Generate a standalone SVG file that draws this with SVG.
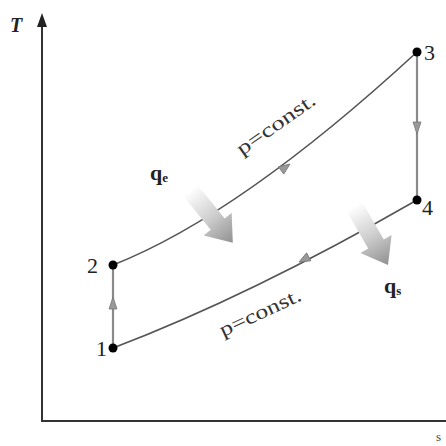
<svg xmlns="http://www.w3.org/2000/svg" width="446" height="446" viewBox="0 0 446 446">
<style>
.ax{stroke:#333;stroke-width:2;fill:none}
.pr{stroke:#555;stroke-width:1.6;fill:none}
.vl{stroke:#8a8a8a;stroke-width:2.2;fill:none}
.ah{fill:#999;stroke:#777;stroke-width:0.8}
.pt{fill:#000}
.lb{font-family:"Liberation Serif",serif;font-size:22px;fill:#222}
.q{font-family:"Liberation Serif",serif;font-size:22px;fill:#222;font-weight:bold}
.sub{font-size:13px}
.pc{font-family:"Liberation Serif",serif;font-size:20px;fill:#333}
</style>
<defs>
<linearGradient id="g" x1="0" y1="0" x2="1" y2="0">
<stop offset="0" stop-color="#ffffff"/>
<stop offset="0.5" stop-color="#cfcfcf"/>
<stop offset="1" stop-color="#909090"/>
</linearGradient>
</defs>
<g id="axes">
<line class="ax" x1="42" y1="24" x2="42" y2="421"/>
<line class="ax" x1="41" y1="421" x2="446" y2="421"/>
<polygon points="42,13 37,27 47,27" fill="#222"/>
<text x="10" y="32" style="font-family:'Liberation Serif',serif;font-size:20px;font-style:italic;font-weight:bold" fill="#222">T</text>
<text x="436" y="441" style="font-family:'Liberation Serif',serif;font-size:13px" fill="#444">s</text>
</g>
<g id="connectors">
<path class="pr" d="M113,265 Q240,215 417,52"/>
<path class="pr" d="M113,348 Q250,296 417,200"/>
<line class="vl" x1="113" y1="348" x2="113" y2="265"/>
<line class="vl" x1="417" y1="52" x2="417" y2="200"/>
<polygon class="ah" points="113,297 109,309 117,309"/>
<polygon class="ah" points="417,134 413,122 421,122"/>
<polygon class="ah" points="0,0 -11,-4.5 -11,4.5" transform="translate(290,164) rotate(-36)"/>
<polygon class="ah" points="0,0 -11,-4.5 -11,4.5" transform="translate(299,262) rotate(152)"/>
</g>
<g id="heat-in">
<polygon fill="url(#g)" points="0,-9 44,-9 44,-18 68,0 44,18 44,9 0,9" transform="translate(190,190) rotate(51)"/>
<text x="150" y="180" class="q">q<tspan class="sub" dy="2">e</tspan></text>
</g>
<g id="heat-out">
<polygon fill="url(#g)" points="0,-9 44,-9 44,-18 68,0 44,18 44,9 0,9" transform="translate(354,206) rotate(60)"/>
<text x="384" y="293" class="q">q<tspan class="sub" dy="2">s</tspan></text>
</g>
<g id="p1"><circle class="pt" cx="113" cy="348" r="4.5"/><text x="96" y="356" class="lb">1</text></g>
<g id="p2"><circle class="pt" cx="113" cy="265" r="4.5"/><text x="87" y="273" class="lb">2</text></g>
<g id="p3"><circle class="pt" cx="417" cy="52" r="4.5"/><text x="424" y="60" class="lb">3</text></g>
<g id="p4"><circle class="pt" cx="417" cy="200" r="4.5"/><text x="422" y="215" class="lb">4</text></g>
<g id="labels">
<text class="pc" transform="translate(242,156) rotate(-35)" textLength="92" lengthAdjust="spacingAndGlyphs">p=const.</text>
<text class="pc" transform="translate(223,337) rotate(-25)" textLength="88" lengthAdjust="spacingAndGlyphs">p=const.</text>
</g>
</svg>
